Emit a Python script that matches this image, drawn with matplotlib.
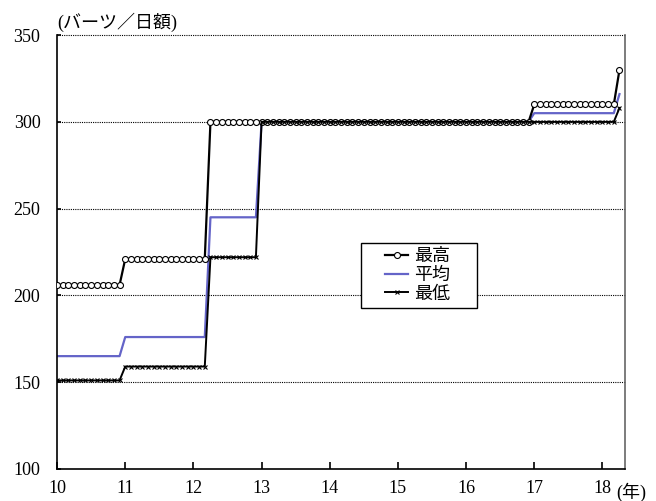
import numpy as np
import matplotlib
matplotlib.use("Agg")
import matplotlib.pyplot as plt
from matplotlib.patches import Rectangle

plt.rcParams['font.family'] = ['Liberation Serif', 'Noto Sans CJK JP', 'DejaVu Sans']

# monthly values, Jan 2010 .. Apr 2018, stored as (level, number of months)
max_levels = [206, 221, 300, 310, 330]
max_months = [12, 15, 57, 15, 1]
avg_levels = [165, 176, 245, 300, 305, 316]
avg_months = [12, 15, 9, 48, 15, 1]
min_levels = [151, 159, 222, 300, 308]
min_months = [12, 15, 9, 63, 1]

year_ticks = [10, 11, 12, 13, 14, 15, 16, 17, 18]
y_ticks = [100, 150, 200, 250, 300, 350]
labels = ['最高', '平均', '最低']

v_max = np.repeat(max_levels, max_months)
v_avg = np.repeat(avg_levels, avg_months)
v_min = np.repeat(min_levels, min_months)
x = 10 + np.arange(len(v_max)) / 12.0

fig = plt.figure(figsize=(6.56, 5.01), dpi=100)
ax = fig.add_axes([0.087, 0.064, 0.866, 0.866])

ax.plot(x, v_avg, color='#6464c8', lw=1.6, zorder=2, label=labels[1])
ax.plot(x, v_max, color='black', lw=1.6, marker='o', ms=4.3,
        mfc='white', mec='black', mew=0.8, zorder=3, label=labels[0])
ax.plot(x, v_min, color='black', lw=1.4, marker='x', ms=3,
        mew=0.8, zorder=4, label=labels[2])

ax.set_xlim(10, 18 + 1/3)
ax.set_ylim(100, 350)
ax.set_xticks(year_ticks)
ax.set_yticks(y_ticks)
ax.set_xticklabels([str(t) for t in year_ticks])

for v in y_ticks[1:]:
    ax.axhline(v, color='black', lw=0.8, ls=(0, (1, 1)), zorder=1, clip_on=False)

ax.tick_params(axis='both', direction='in', labelsize=13, width=1.2)
ax.tick_params(axis='x', length=5, pad=8)
ax.tick_params(axis='y', length=3, pad=12)

ax.spines['top'].set_visible(False)
ax.spines['right'].set_color('#666666')
ax.spines['right'].set_linewidth(1.2)
ax.spines['left'].set_linewidth(1.2)
ax.spines['bottom'].set_linewidth(1.2)

ax.text(0.0, 1.008, '(バーツ／日額)', transform=ax.transAxes,
        fontsize=13, ha='left', va='bottom')
ax.text(18.2, -0.055, '(年)', transform=ax.get_xaxis_transform(),
        fontsize=13, ha='left', va='center')

h, l = ax.get_legend_handles_labels()
order = [1, 0, 2]
leg = ax.legend([h[i] for i in order], [l[i] for i in order],
                loc='center', bbox_to_anchor=(0.634, 0.446),
                fontsize=13, handlelength=1.3, handletextpad=0.3,
                labelspacing=0.1, borderpad=0.2, frameon=False)
ax.add_patch(Rectangle((0.535, 0.371), 0.204, 0.150, transform=ax.transAxes,
                       facecolor='white', edgecolor='black', lw=1.0, zorder=5))
leg.set_zorder(6)

fig.savefig('out.png', dpi=100)
